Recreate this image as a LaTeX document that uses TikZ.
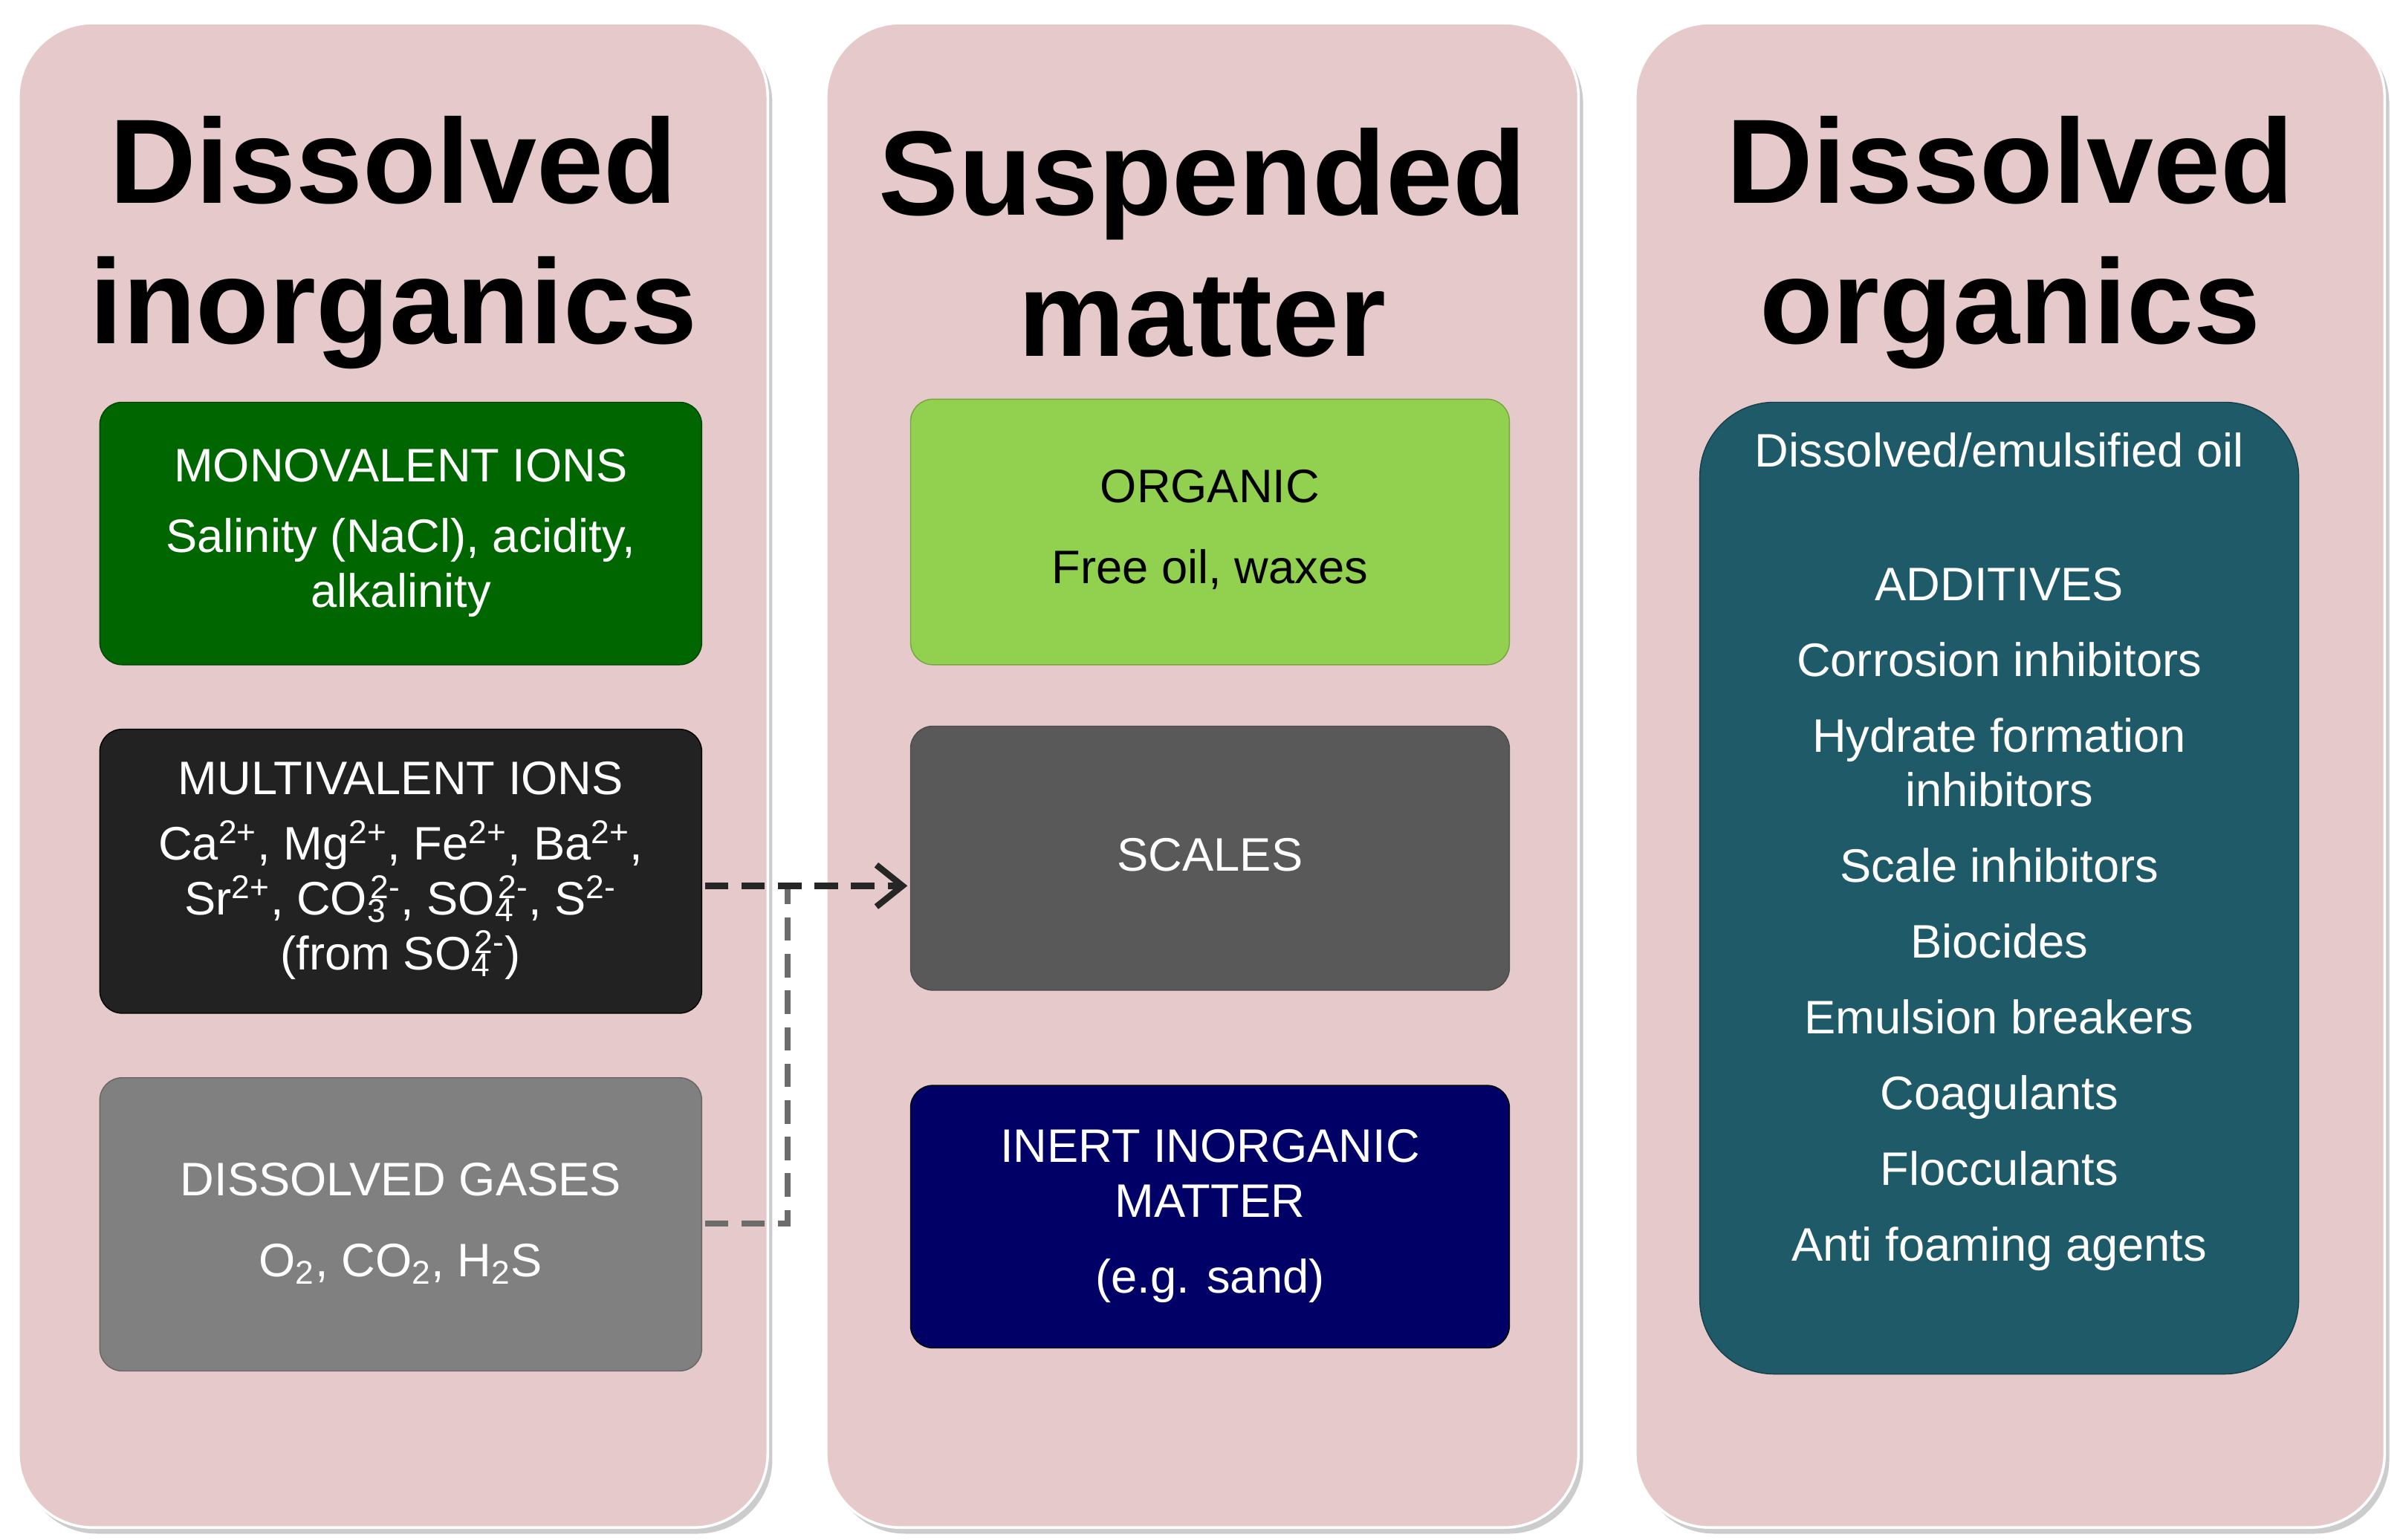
\documentclass[tikz,border=0pt]{standalone}
\usepackage{fontspec}
\setmainfont{Liberation Sans}
\usetikzlibrary{arrows.meta}
\definecolor{pinkbg}{RGB}{230,201,203}
\definecolor{dgreen}{RGB}{0,102,0}
\definecolor{lgreen}{RGB}{146,208,80}
\definecolor{darkbox}{RGB}{34,34,34}
\definecolor{graybox}{RGB}{128,128,128}
\definecolor{scalebox}{RGB}{89,89,89}
\definecolor{navy}{RGB}{0,0,102}
\definecolor{teal}{RGB}{31,90,104}
\newcommand{\ionsp}[2]{#1\textsuperscript{#2}}
\newcommand{\ionsb}[3]{#1\textsubscript{#2}\kern-0.35em\textsuperscript{#3}}
\begin{document}
\begin{tikzpicture}[x=0.020666cm,y=-0.020666cm,
 col/.style={fill=pinkbg,draw=white,line width=1pt,rounded corners=1cm},
 box/.style={rounded corners=0.3cm},
 head/.style={font=\fontsize{46}{54}\selectfont\bfseries,align=center,text=black},
 txt/.style={font=\fontsize{18}{21}\selectfont,align=center,text=white},
 btxt/.style={font=\fontsize{18}{21}\selectfont,align=center,text=black}]
\useasboundingbox (0,0) rectangle (1563,1003);
\fill[white] (0,0) rectangle (1563,1003);
\foreach \a/\b in {12/500,538/1028,1065/1553}{
 \fill[gray!40,rounded corners=1cm] ({\a+3},19) rectangle ({\b+3},999);
 \draw[col] (\a,15) rectangle (\b,995);}
% headers
\node[head] (h1) at (256,158) {Dissolved\\inorganics};
\node[head] (h2) at (783,158) {Suspended\\matter};
\node[head] (h3) at (1309,158) {Dissolved\\organics};
% col1
\filldraw[box,fill=dgreen,draw=dgreen!70!black] (65,262) rectangle (457,433);
\node[txt] (mono) at (261,347) {MONOVALENT IONS\\[6pt]Salinity (NaCl), acidity,\\alkalinity};
\filldraw[box,fill=darkbox,draw=black] (65,475) rectangle (457,660);
\node[txt] (multi) at (261,567) {MULTIVALENT IONS\\[4pt]\ionsp{Ca}{2+}, \ionsp{Mg}{2+}, \ionsp{Fe}{2+}, \ionsp{Ba}{2+},\\\ionsp{Sr}{2+}, \ionsb{CO}{3}{2-}, \ionsb{SO}{4}{2-}, \ionsp{S}{2-}\\(from \ionsb{SO}{4}{2-})};
\filldraw[box,fill=graybox,draw=gray!80!black] (65,702) rectangle (457,893);
\node[txt] (gas) at (261,797) {DISSOLVED GASES\\[10pt]O\textsubscript{2}, CO\textsubscript{2}, H\textsubscript{2}S};
% col2
\filldraw[box,fill=lgreen,draw=lgreen!80!black] (593,260) rectangle (983,433);
\node[btxt] (org) at (788,345) {ORGANIC\\[10pt]Free oil, waxes};
\filldraw[box,fill=scalebox,draw=black!70] (593,473) rectangle (983,645);
\node[txt] (sc) at (788,557) {SCALES};
\filldraw[box,fill=navy,draw=black] (593,707) rectangle (983,878);
\node[txt] (inert) at (788,792) {INERT INORGANIC\\MATTER\\[8pt](e.g. sand)};
% col3
\filldraw[fill=teal,draw=teal!70!black,rounded corners=1cm] (1107,262) rectangle (1497,895);
\node[txt,font=\fontsize{18}{21}\selectfont] (add) at (1302,555) {Dissolved/emulsified oil\\[30pt]ADDITIVES\\[8pt]Corrosion inhibitors\\[8pt]Hydrate formation\\inhibitors\\[8pt]Scale inhibitors\\[8pt]Biocides\\[8pt]Emulsion breakers\\[8pt]Coagulants\\[8pt]Flocculants\\[8pt]Anti foaming agents};
% connectors
\coordinate (j) at (513,577);
\coordinate (m) at (459,577);
\coordinate (s) at (591,577);
\coordinate (g) at (459,797);
\draw[gray!85!black,line width=2.2pt,dash pattern=on 9pt off 5pt] (g) -| (j);
\draw[black!85,line width=2.4pt,dash pattern=on 9pt off 5pt,-{Straight Barb[length=10pt,width=16pt]}] (m) -- (s);
\end{tikzpicture}
\end{document}
